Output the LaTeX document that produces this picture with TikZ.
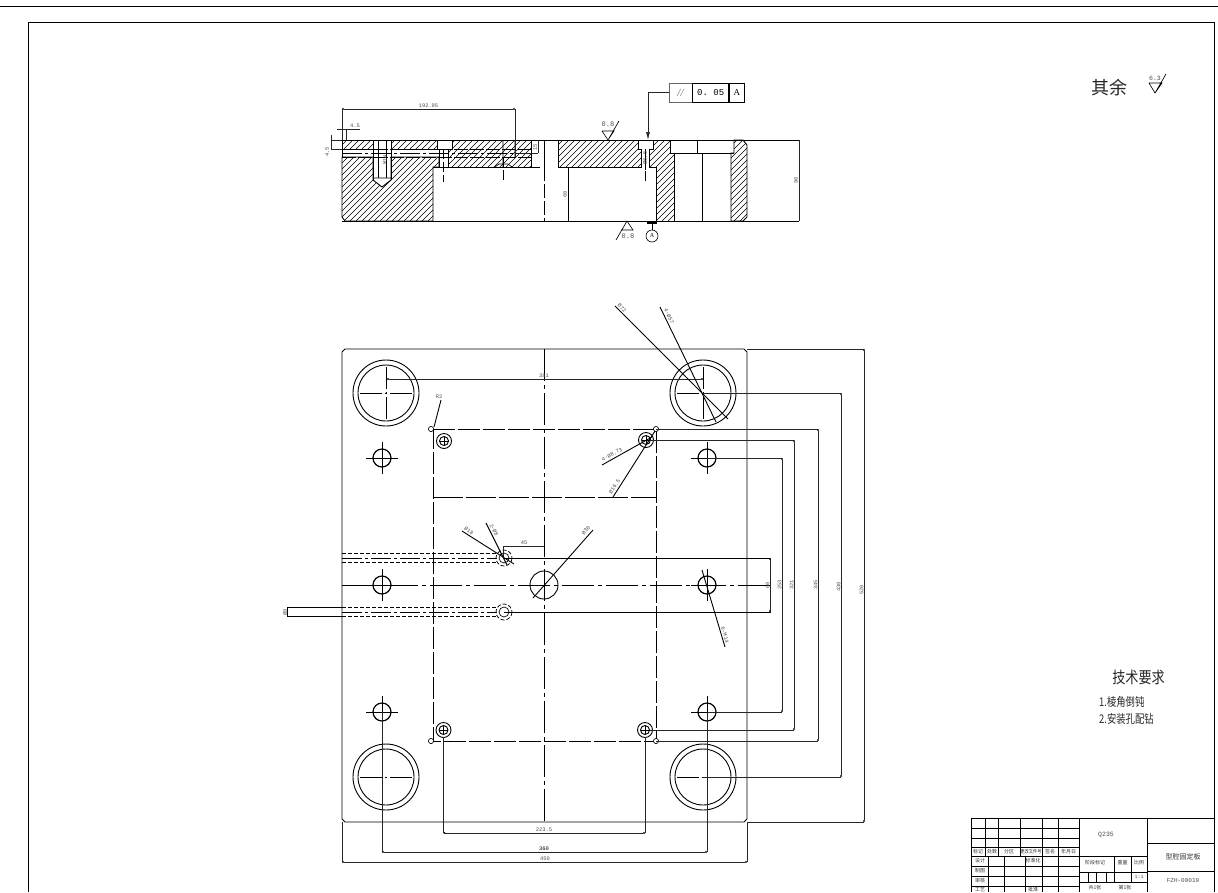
\documentclass[tikz,border=0pt]{standalone}
\usepackage{fontspec}
\setmainfont{Liberation Serif}
\setmonofont{Liberation Mono}
\newfontfamily\cjk{Noto Sans CJK SC}
\usetikzlibrary{arrows.meta}
\tikzset{
  part/.style={line width=0.9pt},
  thinpart/.style={line width=0.65pt},
  hatchline/.style={line width=0.6pt},
  centerline/.style={line width=0.8pt,dash pattern=on 32pt off 4pt on 4pt off 4pt},
  hiddenline/.style={line width=0.75pt,dash pattern=on 4pt off 2pt},
  dimline/.style={line width=0.7pt,black!85},
  dimends/.style={dimline,{Circle[length=2pt]}-{Circle[length=2pt]}},
  dimtext/.style={font=\ttfamily\fontsize{5.4}{6}\selectfont,black!70,inner sep=0pt},
  tbtext/.style={font=\cjk\fontsize{5}{6}\selectfont,black!80,inner sep=0pt},
  reqtext/.style={font=\cjk\fontsize{12}{14}\selectfont,black!85,inner sep=0pt,anchor=west},
}
\newcommand{\hatchregion}[1]{%
  \begin{scope}
    \clip #1 -- cycle;
    \foreach \s in {260,266,...,750} {\draw[hatchline] (\s,221) -- ++(81,-81);}
  \end{scope}
  \draw[part] #1 -- cycle;
}
\begin{document}
\begin{tikzpicture}[x=1pt,y=-1pt]
  \useasboundingbox (0,0) rectangle (1218,892);
  % sheet frame
  \draw[part] (0,6) -- (1218,6);
  \draw[line width=1pt] (28,892) -- (28,22) -- (1214,22) -- (1214,892);

  % section view
  \hatchregion{(342,140) -- (373,140) -- (373,149) -- (342,149)}
  \hatchregion{(391,140) -- (437,140) -- (437,149) -- (391,149)}
  \hatchregion{(452,140) -- (531,140) -- (531,167) -- (448,167) -- (448,149) -- (452,149)}
  \hatchregion{(342,157) -- (373,157) -- (373,180) -- (382,187) -- (391,180) -- (391,157) -- (439,157) -- (439,167) -- (433,167) -- (433,221) -- (345,221) -- (342,217)}
  \hatchregion{(558,140) -- (638,140) -- (638,149) -- (641,149) -- (641,167) -- (558,167)}
  \hatchregion{(653,140) -- (670,140) -- (670,153) -- (674,153) -- (674,221) -- (656,221) -- (656,167) -- (649,167) -- (649,149) -- (653,149)}
  \hatchregion{(734,140) -- (743,140) -- (747,145) -- (747,217) -- (743,221) -- (731,221) -- (731,153) -- (734,153)}
  \draw[part] (342,140) -- (799,140) (342,221) -- (799,221);
  \draw[part] (342,140) -- (342,157) (433,167) -- (540,167) (558,167) -- (568,167) (568,167) -- (568,221);
  \draw[part] (670,153) -- (734,153) (697,140) -- (697,153);
  \draw[part] (373,140) -- (373,180) (391,140) -- (391,180) (439,149) -- (439,167);
  \draw[thinpart] (373,178) -- (391,178) (503,140) -- (503,167) (515,140) -- (515,157) (495,167) -- (499,164) -- (508,164) -- (512,167);
  \draw[hiddenline,dash pattern=on 14pt off 2pt] (342,149) -- (531,149) (342,157) -- (531,157);
  \draw[centerline,dash pattern=on 20pt off 3pt on 3pt off 3pt] (342,153) -- (531,153);
  \draw[thinpart] (378,140) -- (378,178) (386,140) -- (386,178) (645,149) -- (645,167);
  \draw[line width=1pt] (544,140) -- (544,167) (702,153) -- (702,221);
  \draw[centerline,dash pattern=on 14pt off 3pt] (544,167) -- (544,221);
  \draw[hiddenline,dash pattern=on 10pt off 3pt] (443.5,149) -- (443.5,182);
  \draw[hiddenline,dash pattern=on 10pt off 3pt] (503.5,157) -- (503.5,180);
  \draw[hiddenline,dash pattern=on 10pt off 1pt] (645,149) -- (645,182);
  \draw[dimends] (342,109) -- (515,109);
  \draw[dimline] (342,109) -- (342,140) (515,109) -- (515,157);
  \node[dimtext] (secwidth) at (428.5,105.5) {192.95};
  \draw[dimline] (337,129) -- (360,129) (346,129) -- (346,140);
  \node[dimtext] (seclip) at (355,125.5) {4.5};
  \draw[dimline] (331,135) -- (331,149) (331,140) -- (342,140) (331,149) -- (342,149);
  \node[dimtext,rotate=90] (secstep) at (327,152) {4.5};
  \draw[dimline] (538,140) -- (538,153) (517,153) -- (538,153);
  \node[dimtext,rotate=90] (secbore) at (535,147) {15};
  \node[dimtext,rotate=90] (secblind) at (385,160) {M14};
  \node[dimtext,rotate=90] (secpin) at (645,158) {Ø8.5};
  \node[dimtext,rotate=90] (secpocket) at (565,194) {60};
  \draw[dimline] (799,140) -- (799,221);
  \node[dimtext,rotate=90] (secheight) at (796,180) {90};
  % tolerance frame
  \node[draw,line width=0.7pt,minimum width=23pt,minimum height=19pt,inner sep=0pt,font=\itshape\fontsize{11}{12}\selectfont,black!60] (tolsign) at (680.5,92.5) {//};
  \node[draw,line width=0.7pt,minimum width=36pt,minimum height=19pt,inner sep=0pt,font=\ttfamily\fontsize{9}{10}\selectfont,right=0pt] (tolvalue) at (tolsign.east) {0. 05};
  \node[draw,line width=0.7pt,minimum width=15pt,minimum height=19pt,inner sep=0pt,font=\fontsize{9}{10}\selectfont,right=0pt] (tolref) at (tolvalue.east) {A};
  \coordinate (tolend) at (648,140);
  \draw[dimline,-{Latex[length=8pt,width=4pt]}] (tolsign.west) -| (tolend);
  % roughness marks and datum
  \draw[thinpart] (602,131) -- (614,131) -- (608,140) -- (602,131) (608,140) -- (619,121);
  \node[dimtext,font=\ttfamily\fontsize{7}{8}\selectfont] (roughtop) at (608,124.5) {0.8};
  \draw[thinpart] (621,230) -- (633,230) -- (627,221) -- (616,240);
  \node[dimtext,font=\ttfamily\fontsize{7}{8}\selectfont] (roughbot) at (628,236) {0.8};
  \draw[line width=2pt] (647,223) -- (657,223);
  \node[draw,circle,line width=0.6pt,minimum size=12pt,inner sep=0pt,font=\fontsize{6}{7}\selectfont] (datum) at (652,236) {A};
  \draw[thinpart] (652,223) -- (datum);

  % top view
  \draw[part] (345,349) -- (744,349) -- (747,352) -- (747,819) -- (744,822) -- (345,822) -- (342,819) -- (342,352) -- cycle;
  \draw[centerline] (544,349) -- (544,822);
  \draw[centerline] (342,585) -- (770,585);
  \draw[hiddenline,dash pattern=on 22pt off 3pt] (433,429) -- (656,429) -- (656,741) -- (433,741) -- cycle;
  \draw[hiddenline,dash pattern=on 30pt off 3pt] (433,497) -- (656,497);
  \foreach \cx/\cy in {431/429,656/429,431/741,656/741} {\draw[thinpart,fill=white] (\cx,\cy) circle[radius=2.6];}
  % guide pillars
  \foreach \cx/\cy in {386/393,703/393,386/777,703/777} {
    \draw[part] (\cx,\cy) circle[radius=33] (\cx,\cy) circle[radius=28];
    \draw[centerline,dash pattern=on 22pt off 3pt on 2pt off 3pt] (\cx-26,\cy) -- (\cx+27,\cy);
  }
  \foreach \cx in {386,703} {\draw[centerline,dash pattern=on 22pt off 3pt on 2pt off 3pt] (\cx,367) -- (\cx,420);}
  % screw holes
  \foreach \cx/\cy in {382/458,707/458,382/585,707/585,382/712,707/712} {
    \draw[line width=1.2pt] (\cx,\cy) circle[radius=9];
    \draw[part] (\cx-16,\cy) -- (\cx+16,\cy) (\cx,\cy-16) -- (\cx,\cy+16);
  }
  % pin holes
  \foreach \cx/\cy in {444/441,646/440,443.5/730,645/730} {
    \draw[part] (\cx,\cy) circle[radius=7.5] (\cx,\cy) circle[radius=4.5];
    \draw[thinpart] (\cx-4.5,\cy) -- (\cx+4.5,\cy) (\cx,\cy-4.5) -- (\cx,\cy+4.5);
  }
  % sprue hole and cooling channels
  \draw[part] (544,585) circle[radius=14];
  \draw[part] (504,558) -- (770,558) -- (770,612) -- (504,612);
  \foreach \cy in {558,612} {
    \draw[hiddenline] (504,\cy) circle[radius=8];
    \draw[thinpart] (504,\cy) circle[radius=5];
    \draw[hiddenline] (342,\cy-5) -- (497,\cy-5) (342,\cy+4) -- (497,\cy+4);
    \draw[centerline,dash pattern=on 20pt off 3pt on 3pt off 3pt] (342,\cy) -- (497,\cy);
  }
  \draw[part] (342,607) -- (287,607) -- (287,616) -- (342,616);
  \node[dimtext,rotate=90] (chandia) at (285,612) {Ø8};

  % outer dimensions on the right
  \foreach \dx/\ya/\yb/\xa/\xb/\ly/\txt in {864/349/822/747/747/590/520,841/393/777/703/703/587/430,818/429/741/656/656/585/345,794/440/730/650/650/585/321,782/458/712/707/707/585/253} {
    \draw[dimends] (\dx,\ya) -- (\dx,\yb);
    \draw[dimline] (\xa,\ya) -- (\dx,\ya) (\xb,\yb) -- (\dx,\yb);
    \node[dimtext,rotate=90] (dim\txt) at (\dx-2.5,\ly) {\txt};
  }
  \draw[dimends] (770,558) -- (770,612);
  \node[dimtext,rotate=90] (dimband) at (767.5,585) {60};
  % dimensions below and above
  \draw[dimends] (342,862) -- (747,862);
  \draw[dimline] (342,822) -- (342,862) (747,822) -- (747,862);
  \node[dimtext] (dimwidth) at (545,859) {450};
  \draw[dimends] (382,852) -- (707,852);
  \draw[dimline] (382,712) -- (382,852) (707,712) -- (707,852);
  \node[dimtext,black] (dimscrew) at (544,848.5) {360};
  \draw[dimends] (443.5,833) -- (645,833);
  \draw[dimline] (443.5,737) -- (443.5,833) (645,737) -- (645,833);
  \node[dimtext] (dimpin) at (544,829.5) {223.5};
  \draw[dimends] (387,379) -- (703,379);
  \node[dimtext] (dimpillar) at (544,376) {381};
  \draw[dimline] (503,558) -- (503,546) -- (544,546);
  \node[dimtext] (dimoffset) at (524,543) {45};
  % leaders
  \draw[part] (615,306) -- (728,419);
  \node[dimtext,rotate=-45] (lblpillar) at (622,308) {Ø72};
  \draw[part] (660,307) -- (716,422);
  \node[dimtext,rotate=-64] (lblbush) at (669,316) {4-Ø57};
  \draw[part] (602,465) -- (652,437);
  \node[dimtext,rotate=28] (lblpin) at (612,454.5) {4-Ø8.73};
  \draw[part] (613,497) -- (655,431);
  \node[dimtext,rotate=57] (lblcbore) at (614.5,486.5) {Ø16.5};
  \draw[part] (462,531) -- (514,564);
  \node[dimtext,rotate=-32] (lblchan) at (469,531) {Ø18};
  \draw[part] (486,523) -- (507,565);
  \node[dimtext,rotate=-63] (lblchantwo) at (494,530) {2-Ø8};
  \draw[part] (593,530) -- (533,598);
  \node[dimtext,rotate=48] (lblsprue) at (586,530.5) {Ø30};
  \draw[part] (702,570) -- (725,647);
  \node[dimtext,rotate=-73] (lblscrew) at (725,635) {6-M14};
  \draw[part] (434,427) -- (441,400);
  \node[dimtext] (lblradius) at (439,397) {R2};

  % surface note
  \node[font=\cjk\fontsize{18}{20}\selectfont,black!85,inner sep=0pt] (restnote) at (1109,88) {其余};
  \draw[thinpart] (1149,83) -- (1162,83) -- (1155,93) -- (1149,83) (1155,93) -- (1166,74);
  \node[dimtext,font=\ttfamily\fontsize{6.5}{7}\selectfont] (restvalue) at (1155,78) {6.3};
  % requirements
  \node[font=\cjk\fontsize{16}{18}\selectfont,black!85,inner sep=0pt] (reqtitle) at (1138.5,677) {\scalebox{0.82}[1]{技术要求}};
  \node[reqtext] (reqone) at (1099,702) {\scalebox{0.78}[1]{1.棱角倒钝}};
  \node[reqtext] (reqtwo) at (1099,719) {\scalebox{0.78}[1]{2.安装孔配钻}};

  % title block
  \draw[part] (971,818) -- (1214,818) (971,818) -- (971,892) (1079,818) -- (1079,892) (1147,818) -- (1147,892);
  \foreach \ry in {828,838,847,856,866,876,886} {\draw[thinpart] (971,\ry) -- (1079,\ry);}
  \foreach \rx in {985,998.5,1020,1042,1058} {\draw[thinpart] (\rx,818) -- (\rx,856);}
  \foreach \rx in {988,1004,1025,1042,1058} {\draw[thinpart] (\rx,856) -- (\rx,892);}
  \draw[thinpart] (1079,856) -- (1147,856) (1079,872) -- (1147,872) (1079,882) -- (1147,882) (1147,843) -- (1214,843) (1147,871) -- (1214,871);
  \draw[thinpart] (1114,856) -- (1114,882) (1131,856) -- (1131,882);
  \foreach \rx in {1088,1096,1106} {\draw[thinpart] (\rx,872) -- (\rx,882);}
  \foreach \tx/\ty/\txt/\tid in {978/851.5/标记/a,992/851.5/处数/b,1009/851.5/分区/c,1031/851.5/\scalebox{0.85}[1]{更改文件号}/d,1050/851.5/签名/e,1068.5/851.5/年月日/f,980/861/设计/g,1033/861/标准化/h,980/871/制图/i,980/881/审核/j,980/890/工艺/k,1033/890/批准/l,1095/863/阶段标记/m,1122.5/863/重量/n,1139/863/比例/o,1095/888/共1张/p,1125/888/第1张/q} {
    \node[tbtext] (tb\tid) at (\tx,\ty) {\txt};
  }
  \node[dimtext,font=\ttfamily\fontsize{5}{6}\selectfont] (tbscale) at (1139,877) {1:1};
  \node[dimtext,font=\ttfamily\fontsize{6.5}{7}\selectfont] (tbmaterial) at (1106,835) {Q235};
  \node[tbtext,font=\cjk\fontsize{7}{8}\selectfont] (tbname) at (1183,857) {型腔固定板};
  \node[dimtext,font=\ttfamily\fontsize{6}{7}\selectfont] (tbcode) at (1183,881) {FZH-00019};
\end{tikzpicture}
\end{document}
